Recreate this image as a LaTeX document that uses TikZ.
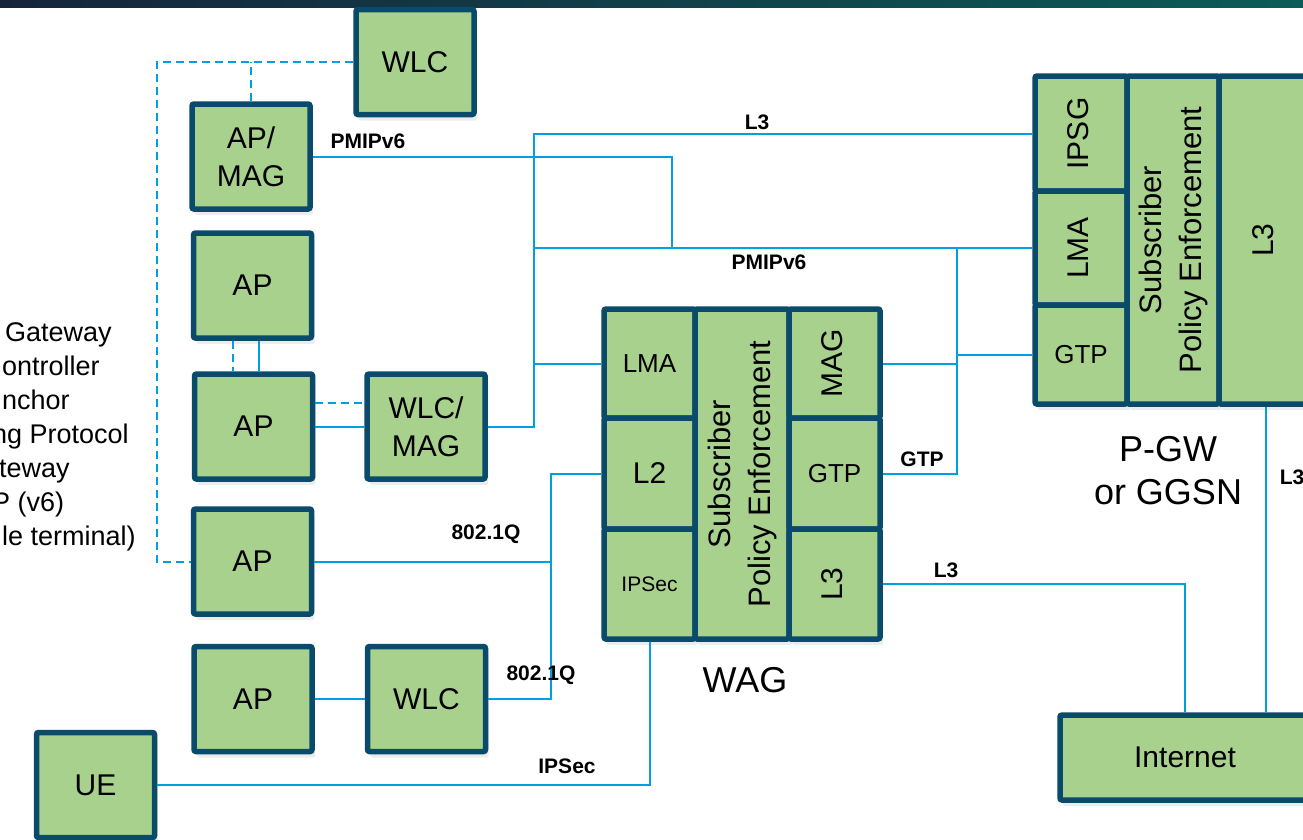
\documentclass[tikz,border=0pt]{standalone}
\usepackage{fontspec}
\setmainfont{Liberation Sans}
\usetikzlibrary{calc, positioning, shadows}

\definecolor{cGreen}{RGB}{169,209,142}
\definecolor{cEdge}{RGB}{10,74,107}
\definecolor{cLink}{RGB}{0,160,222}
\definecolor{cSkyL}{RGB}{22,36,58}
\definecolor{cSkyR}{RGB}{12,92,88}

\newcommand{\boxfont}{\fontsize{30}{38}\selectfont}
\newcommand{\cellfont}{\fontsize{26}{32}\selectfont}
\newcommand{\tinycellfont}{\fontsize{21}{26}\selectfont}
\newcommand{\spefont}{\fontsize{31}{40}\selectfont}
\newcommand{\lblfont}{\fontsize{21}{25}\selectfont\bfseries}
\newcommand{\capfont}{\fontsize{36}{43}\selectfont}
\newcommand{\legfont}{\fontsize{27}{34}\selectfont}
\newcommand{\vtext}[1]{\rotatebox{90}{\begin{tabular}{@{}c@{}}#1\end{tabular}}}

\begin{document}
\begin{tikzpicture}[
  x=1pt, y=-1pt,
  box/.style={draw=cEdge, fill=cGreen, line width=5.5pt, rounded corners=2pt,
              minimum width=118pt, minimum height=105pt, inner sep=0pt,
              align=center, font=\boxfont,
              drop shadow={shadow xshift=3pt, shadow yshift=-6pt, opacity=0.15}},
  cell/.style={box},
  link/.style={draw=cLink, line width=2pt},
  dashlink/.style={link, dash pattern=on 8pt off 5pt},
  tag/.style={font=\lblfont, inner sep=0pt},
  caption/.style={font=\capfont, align=center, inner sep=0pt},
  legend/.style={font=\legfont, align=left, inner sep=0pt}
]
\useasboundingbox (0,0) rectangle (1303,839);

%% ── TOP BAND ────────────────────────────────────────────────────────────────

\shade[left color=cSkyL, right color=cSkyR] (0,0) rectangle (1303,7);

%% ── ACCESS SIDE ─────────────────────────────────────────────────────────────

\node[box] (wlcTop) at (415,62) {WLC};
\node[box] (apMag)  at (251,156.5) {AP/\\MAG};
\node[box] (apB)    at (252.5,285.5) {AP};
\node[box] (apC)    at (253.5,426.5) {AP};
\node[box, right=49pt of apC] (wlcMag) {WLC/\\MAG};
\node[box] (apD)    at (252.5,561.5) {AP};
\node[box] (apE)    at (253,699) {AP};
\node[box, right=50pt of apE] (wlcBot) {WLC};
\node[box] (ue)     at (95.5,785) {UE};

\node[legend, anchor=north west] (legend) at (2,322) {
  \hspace*{3pt}Gateway\\ontroller\\nchor\\\hspace*{-10pt}ng Protocol\\
  \hspace*{-3pt}teway\\\hspace*{-10pt}P (v6)\\le terminal)
};

%% ── WAG ─────────────────────────────────────────────────────────────────────

\node[cell, minimum width=91pt, minimum height=109pt, font=\cellfont]
  (wagLma) at (649.5,363.5) {LMA};
\node[cell, minimum width=91pt, minimum height=111pt]
  (wagL2) at (649.5,473.5) {L2};
\node[cell, minimum width=91pt, minimum height=110pt, font=\tinycellfont]
  (wagIpsec) at (649.5,584) {IPSec};
\node[cell, minimum width=94pt, minimum height=330pt, font=\spefont]
  (wagSpe) at (742,474) {\vtext{Subscriber\\Policy Enforcement}};
\node[cell, minimum width=91pt, minimum height=109pt]
  (wagMag) at (834.5,363.5) {\vtext{MAG}};
\node[cell, minimum width=91pt, minimum height=111pt, font=\cellfont]
  (wagGtp) at (834.5,473.5) {GTP};
\node[cell, minimum width=91pt, minimum height=110pt]
  (wagL3) at (834.5,584) {\vtext{L3}};

\node[caption] (wagCap) at (745,680) {WAG};

%% ── P-GW ────────────────────────────────────────────────────────────────────

\node[cell, minimum width=92pt, minimum height=115pt]
  (pgwIpsg) at (1081,133.5) {\vtext{IPSG}};
\node[cell, minimum width=92pt, minimum height=114pt]
  (pgwLma) at (1081,248) {\vtext{LMA}};
\node[cell, minimum width=92pt, minimum height=99pt, font=\cellfont]
  (pgwGtp) at (1081,354.5) {GTP};
\node[cell, minimum width=92pt, minimum height=328pt, font=\spefont]
  (pgwSpe) at (1173,240) {\vtext{Subscriber\\Policy Enforcement}};
\node[cell, minimum width=94pt, minimum height=328pt]
  (pgwL3) at (1266,240) {\vtext{L3}};

\node[caption] (pgwCap) at (1168,471) {P-GW\\or GGSN};

%% ── INTERNET ────────────────────────────────────────────────────────────────

\node[box, minimum width=250pt, minimum height=85pt] (inet) at (1185,757.5) {Internet};

%% ── LINKS: wireless control (dashed) ────────────────────────────────────────

\coordinate (dashLeft) at (157,561.5);
\draw[dashlink] (wlcTop.west) -| (dashLeft) -- (apD.west);
\draw[dashlink] (apMag.north) -- (apMag.north |- wlcTop.west);
\coordinate (dashB) at ($(apB.south)+(-19.5,0)$);
\draw[dashlink] (dashB) -- (dashB |- apC.north);
\coordinate (dashC) at ($(apC.east)+(0,-23.5)$);
\draw[dashlink] (dashC) -- (dashC -| wlcMag.west);

%% ── LINKS: data path ────────────────────────────────────────────────────────

\coordinate (solidB)   at ($(apB.south)+(6.5,0)$);
\coordinate (l3Turn)   at (534,133.5);
\coordinate (pmipTurn) at (672,248);
\coordinate (qTurn)    at (551,699);
\coordinate (gtpTurn)  at (957,248);

\draw[link] (solidB) -- (solidB |- apC.north);
\draw[link] (apC.east) -- (apC.east -| wlcMag.west);
\draw[link] (apMag.east) -| (pmipTurn);
\draw[link] (wlcMag.east) -| (l3Turn) -- (pgwIpsg.west);
\draw[link] (pgwLma.west) -- (pgwLma.west -| l3Turn);
\draw[link] (wagLma.west) -- (wagLma.west -| l3Turn);
\draw[link] (wagL2.west) -| (qTurn) -- (wlcBot.east);
\draw[link] (apD.east) -- (apD.east -| qTurn);
\draw[link] (apE.east) -- (wlcBot.west);
\draw[link] (ue.east) -| (wagIpsec.south);
\draw[link] (wagGtp.east) -| (gtpTurn);
\draw[link] (wagMag.east) -- (wagMag.east -| gtpTurn);
\draw[link] (pgwGtp.west) -- (pgwGtp.west -| gtpTurn);
\draw[link] (wagL3.east) -| (inet.north);
\draw[link] (pgwL3.south) -- (pgwL3.south |- inet.north);

%% ── LINK LABELS ─────────────────────────────────────────────────────────────

\node[tag] (tPmipA)  at (368,141) {PMIPv6};
\node[tag] (tL3Top)  at (757,122) {L3};
\node[tag] (tPmipB)  at (769,262) {PMIPv6};
\node[tag] (tDot1qA) at (486,534) {802.1Q};
\node[tag] (tDot1qB) at (541,675) {802.1Q};
\node[tag] (tIpsec)  at (567,766) {IPSec};
\node[tag] (tGtp)    at (922,459) {GTP};
\node[tag] (tL3Wag)  at (946,570) {L3};
\node[tag] (tL3Pgw)  at (1292,477) {L3};

\end{tikzpicture}
\end{document}
